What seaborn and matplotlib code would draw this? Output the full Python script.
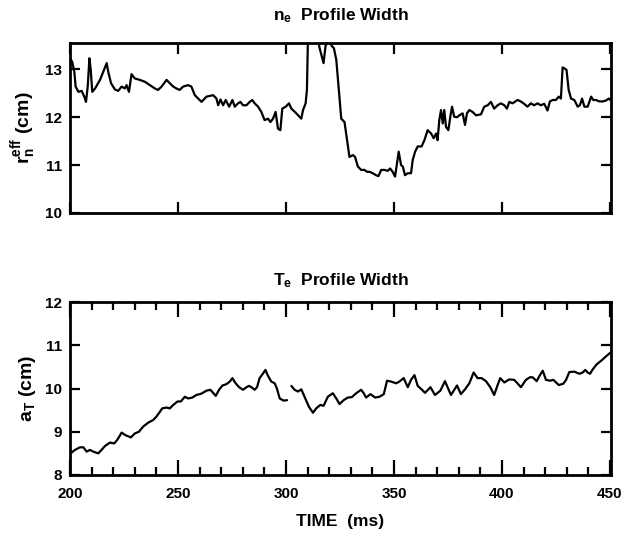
import numpy as np
import pandas as pd
import matplotlib
matplotlib.use("Agg")
import matplotlib.pyplot as plt
import seaborn as sns
from matplotlib.ticker import MultipleLocator

# ---------------- data ----------------
ne_time = [200, 201, 202, 202.6, 203.9, 205.4, 206.6, 207.4, 208.2, 209, 209.6, 210.3, 211.6,
           213.9, 215.4, 217, 217.7, 219, 220.8, 222.3, 223.9, 225.4, 226.2, 227.3, 228.5, 230,
           232.3, 234.7, 237, 239.3, 240.8, 242.4, 244.7, 246.2, 247.8, 249.3, 250.8, 252.4,
           254.7, 256.2, 257.8, 260.9, 263.2, 266.3, 267.8, 268.6, 269.7, 270.9, 272.1, 273.7,
           275.2, 276.3, 277.8, 278.9, 280.1, 281.7, 283.2, 284.4, 285.5, 287.1, 288.6, 290.1,
           291.7, 292.8, 294, 295.2, 296.3, 297.4, 298.3, 299.9, 301.4, 302.5, 304.8, 307.1,
           307.9, 309.1, 309.7, 310.2, 312, 314, 315.6, 317.4, 318.3, 320, 321, 322.2, 323.3,
           324.5, 325.6, 327.1, 328.3, 329.4, 331, 332, 333.3, 334.8, 336.3, 337.6, 338.7,
           340.2, 341.7, 342.8, 344.1, 345.6, 347.1, 348.2, 349.4, 350.5, 351.4, 352.2, 353.3,
           354.1, 355.1, 356.4, 357.9, 358.7, 359.8, 361, 362.8, 364.1, 365.6, 367.2, 368.4,
           369.5, 370.2, 371, 371.8, 372.6, 373.3, 374.1, 375.2, 376.1, 376.9, 377.9, 379.2,
           380.3, 381.8, 382.9, 383.8, 384.9, 386.4, 388, 390.3, 391.8, 393.4, 394.9, 396.4,
           398, 399.5, 401.1, 402.3, 403.4, 404.9, 407.2, 408.7, 410.3, 411.8, 413.4, 414.9,
           416.5, 418, 419.6, 421.1, 422.2, 423.5, 425, 426.3, 427.3, 428.1, 428.9, 429.9,
           430.9, 432, 433.5, 435.1, 436.1, 437.1, 438.2, 439.7, 441.3, 442.3, 443.6, 445.1,
           446.7, 448.2, 449.5, 450.5]
ne_width = [13.23, 13.16, 12.95, 12.64, 12.53, 12.55, 12.43, 12.32, 12.64, 13.23, 12.99, 12.53, 12.60,
            12.78, 12.95, 13.13, 12.95, 12.71, 12.58, 12.55, 12.64, 12.60, 12.67, 12.53, 12.90, 12.81,
            12.78, 12.74, 12.67, 12.60, 12.57, 12.64, 12.78, 12.71, 12.64, 12.60, 12.57, 12.64,
            12.67, 12.64, 12.46, 12.32, 12.43, 12.46, 12.39, 12.25, 12.37, 12.25, 12.36, 12.22,
            12.36, 12.22, 12.29, 12.32, 12.25, 12.25, 12.32, 12.36, 12.29, 12.22, 12.11, 11.94,
            11.97, 11.90, 11.97, 12.11, 11.76, 11.73, 12.18, 12.22, 12.29, 12.18, 12.08, 11.97,
            12.15, 12.29, 12.57, 13.70, 13.90, 13.80, 13.44, 13.13, 13.48, 13.70, 13.50, 13.44, 13.20,
            12.57, 11.97, 11.90, 11.52, 11.17, 11.21, 11.17, 10.97, 10.90, 10.90, 10.86, 10.86,
            10.83, 10.79, 10.77, 10.90, 10.90, 10.88, 10.93, 10.86, 10.76, 11.04, 11.28, 11.00,
            10.97, 10.79, 10.83, 10.83, 11.11, 11.28, 11.39, 11.39, 11.52, 11.73, 11.66, 11.56,
            11.66, 11.52, 11.94, 12.15, 11.87, 12.15, 11.80, 11.73, 12.01, 12.22, 12.01, 12.00,
            12.04, 12.08, 11.84, 12.08, 12.15, 12.11, 12.04, 12.06, 12.22, 12.25, 12.32, 12.18,
            12.25, 12.29, 12.25, 12.18, 12.32, 12.29, 12.36, 12.33, 12.28, 12.22, 12.29, 12.25,
            12.29, 12.25, 12.28, 12.14, 12.33, 12.36, 12.36, 12.43, 12.39, 13.04, 13.02, 12.99,
            12.57, 12.39, 12.36, 12.22, 12.25, 12.39, 12.22, 12.22, 12.43, 12.36, 12.36, 12.33,
            12.33, 12.35, 12.39, 12.35]

te_time = [200, 202.3, 204.6, 206.2, 207.7, 209.2, 210.8, 213.1, 214.6, 216.2, 218.5, 220.5, 222,
           223.9, 225.7, 228.2, 230, 231.9, 233.9, 236.2, 238.5, 240, 241.6, 242.7, 244.7, 246.2,
           247.8, 249.8, 251.3, 253.2, 254.7, 256.6, 258.5, 260.8, 263.2, 265, 267.5, 269, 270.6,
           272.4, 274, 275.2, 276.7, 278.3, 280.1, 281.7, 282.9, 284, 285.5, 286.6, 287.8, 289.4,
           290.5, 291.7, 293.2, 294.8, 295.8, 297.1, 298.9, 300.5,
           302.5, 304, 305.6, 307.1, 308.6, 310.6, 312.5, 314, 315.9, 317.4, 319.4, 321.7, 323.3,
           324.8, 326.7, 328.6, 330.5, 332.5, 334.8, 336, 337.1, 339.1, 341.3, 343.3, 345.3,
           346.8, 348.7, 351, 352.5, 354.5, 356.4, 357.9, 359.5, 361, 362.8, 364.4, 366.9, 369,
           371.5, 373.6, 376.4, 379.2, 381, 382.9, 384.9, 386.9, 388.7, 390.6, 392.6, 394.6,
           396.4, 398, 399.2, 401.1, 403.4, 405.7, 408.8, 411.1, 413, 414.2, 416.1, 417.6,
           418.9, 420.4, 422.3, 423.8, 426.3, 428.4, 429.7, 431.2, 433.5, 435.9, 437.4, 438.6,
           439.7, 440.8, 442, 443.9, 445.9, 447.9, 450.5]
te_width = [8.49, 8.58, 8.64, 8.64, 8.54, 8.58, 8.54, 8.50, 8.58, 8.67, 8.75, 8.73, 8.82,
            8.98, 8.92, 8.87, 8.96, 9.00, 9.12, 9.21, 9.27, 9.35, 9.46, 9.54, 9.56, 9.54,
            9.62, 9.70, 9.70, 9.81, 9.77, 9.79, 9.85, 9.88, 9.95, 9.97, 9.83, 9.97, 10.07,
            10.10, 10.16, 10.24, 10.12, 10.03, 9.97, 10.03, 10.06, 10.03, 9.97, 10.03, 10.24, 10.35,
            10.43, 10.29, 10.16, 10.12, 10.00, 9.77, 9.72, 9.73,
            10.06, 9.97, 9.93, 9.98, 9.81, 9.58, 9.44, 9.54, 9.62, 9.60, 9.81, 9.89, 9.77,
            9.64, 9.73, 9.79, 9.80, 9.89, 9.97, 9.89, 9.79, 9.87, 9.79, 9.81, 9.87,
            10.18, 10.16, 10.12, 10.16, 10.24, 10.03, 10.20, 10.31, 10.06, 9.98, 9.90, 10.03, 9.85,
            9.95, 10.17, 9.85, 10.07, 9.87, 9.98, 10.12, 10.37, 10.24, 10.24, 10.17, 10.03,
            9.85, 10.08, 10.24, 10.14, 10.21, 10.20, 10.03, 10.20, 10.26, 10.26, 10.17, 10.31,
            10.41, 10.20, 10.18, 10.20, 10.08, 10.11, 10.20, 10.38, 10.39, 10.34, 10.37, 10.43,
            10.37, 10.34, 10.44, 10.56, 10.64, 10.73, 10.84]
te_gap_after = 301.0   # the trace is broken near 301 ms

x_ticks = [200, 250, 300, 350, 400, 450]
ne_yticks = [10, 11, 12, 13]
te_yticks = [8, 9, 10, 11, 12]

# ---------------- style ----------------
sns.set_theme(style="ticks")
plt.rcParams['font.family'] = ['Liberation Sans', 'DejaVu Sans']
plt.rcParams['font.weight'] = 'bold'
plt.rcParams['text.color'] = 'black'
plt.rcParams['axes.labelcolor'] = 'black'
plt.rcParams['xtick.color'] = 'black'
plt.rcParams['ytick.color'] = 'black'
plt.rcParams['mathtext.fontset'] = 'custom'
plt.rcParams['mathtext.rm'] = 'Liberation Sans:bold'
plt.rcParams['mathtext.it'] = 'Liberation Sans:bold'
plt.rcParams['mathtext.bf'] = 'Liberation Sans:bold'

fig = plt.figure(figsize=(6.24, 5.40), dpi=100)
ax1 = fig.add_axes([70/624, 1-213/540, 541/624, 170/540])
ax2 = fig.add_axes([70/624, 1-475/540, 541/624, 173/540])

ne_df = pd.DataFrame({"time": ne_time, "width": ne_width})
te_df = pd.DataFrame({"time": te_time, "width": te_width})
te_a = te_df[te_df["time"] <= te_gap_after]
te_b = te_df[te_df["time"] > te_gap_after]

lw = 1.6
sns.lineplot(data=ne_df, x="time", y="width", ax=ax1, color="black", lw=lw,
             estimator=None, sort=False)
sns.lineplot(data=te_a, x="time", y="width", ax=ax2, color="black", lw=lw,
             estimator=None, sort=False)
sns.lineplot(data=te_b, x="time", y="width", ax=ax2, color="black", lw=lw,
             estimator=None, sort=False)

for ax in (ax1, ax2):
    ax.set_xlim(200, 450.5)
    for s in ax.spines.values():
        s.set_visible(True)
        s.set_linewidth(2.0)
        s.set_color("black")
    ax.tick_params(which="both", direction="in", top=True, right=True,
                   width=1.6, colors="black", labelsize=11)
    ax.tick_params(which="major", length=7)
    ax.tick_params(axis="y", pad=6)
    ax.grid(False)

ax1.set_ylim(10, 13.55)
ax1.set_yticks(ne_yticks)
ax1.set_xticks(x_ticks)
ax1.tick_params(axis="x", labelbottom=False, length=8)
ax1.set_xlabel("")
ax1.set_ylabel(r"r$_n^{eff}$ (cm)", fontsize=14, fontweight="bold", labelpad=5, color="black")
ax1.set_title(r"n$_e$  Profile Width", fontsize=12.5, fontweight="bold", pad=16, color="black")

ax2.set_ylim(8, 12)
ax2.set_yticks(te_yticks)
ax2.set_xticks(x_ticks)
ax2.xaxis.set_minor_locator(MultipleLocator(10))
ax2.tick_params(axis="x", which="major", length=11, pad=9)
ax2.tick_params(axis="x", which="minor", length=6, width=1.6, direction="in",
                top=True, bottom=True)
ax2.set_xlabel("TIME  (ms)", fontsize=12.5, fontweight="bold", labelpad=9, color="black")
ax2.set_ylabel(r"a$_T$ (cm)", fontsize=14, fontweight="bold", labelpad=5, color="black")
ax2.set_title(r"T$_e$  Profile Width", fontsize=12.5, fontweight="bold", pad=12, color="black")

for ax in (ax1, ax2):
    for lab in ax.get_xticklabels() + ax.get_yticklabels():
        lab.set_fontweight("bold")
        lab.set_color("black")

fig.savefig("out.png", dpi=100)
